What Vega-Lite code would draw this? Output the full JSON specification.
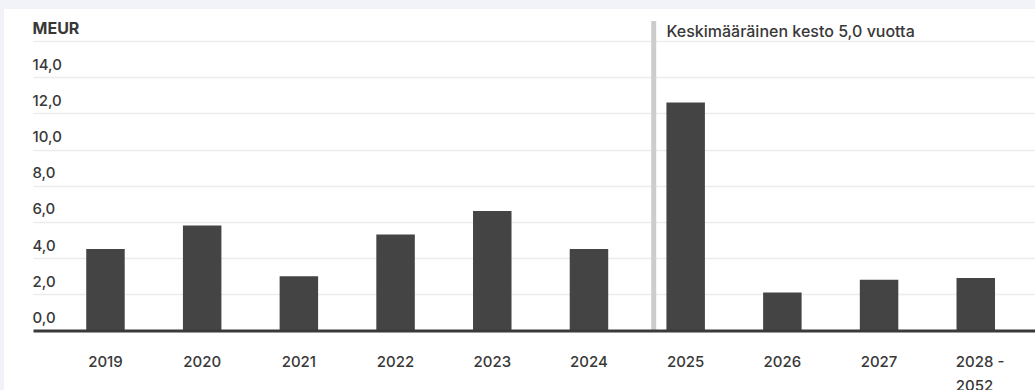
{
  "$schema": "https://vega.github.io/schema/vega-lite/v6.json",
  "width": 1031,
  "height": 381,
  "autosize": "none",
  "padding": {"left": 4, "top": 9, "right": 0, "bottom": 0},
  "background": "#f2f3f9",
  "config": {"view": {"fill": "white", "stroke": null}, "font": "Inter"},
  "datasets": {
    "bars": [
      {"year": "2019", "value": 4.5},
      {"year": "2020", "value": 5.8},
      {"year": "2021", "value": 3.0},
      {"year": "2022", "value": 5.3},
      {"year": "2023", "value": 6.6},
      {"year": "2024", "value": 4.5},
      {"year": "2025", "value": 12.6},
      {"year": "2026", "value": 2.1},
      {"year": "2027", "value": 2.8},
      {"year": "2028 - 2052", "value": 2.9}
    ],
    "notes": [
      {"year": "2025", "top": 17.1, "bottom": 0, "labelY": 16.2, "label": "Keskimääräinen kesto 5,0 vuotta"}
    ]
  },
  "layer": [
    {
      "data": {"name": "bars"},
      "mark": {"type": "bar", "color": "#444444"},
      "encoding": {
        "x": {
          "field": "year",
          "type": "nominal",
          "scale": {
            "domain": ["2019", "2020", "2021", "2022", "2023", "2024", "2025", "2026", "2027", "2028 - 2052"],
            "range": [29, 1031],
            "paddingInner": 0.602,
            "paddingOuter": 0.482,
            "align": 0.571
          },
          "axis": {
            "title": null,
            "orient": "bottom",
            "offset": -59.5,
            "domainColor": "#3a3a3a",
            "domainWidth": 3,
            "ticks": false,
            "tickSize": 0,
            "grid": false,
            "labelPadding": 36,
            "labelBaseline": "alphabetic",
            "labelFontSize": 15,
            "labelFontWeight": 500,
            "labelColor": "#383838",
            "labelAngle": 0,
            "labelLineHeight": 24,
            "labelExpr": "datum.value == '2028 - 2052' ? ['2028 -', '2052'] : datum.label",
            "labelAlign": {"condition": {"test": "datum.value == '2028 - 2052'", "value": "left"}, "value": "center"},
            "labelOffset": {"condition": {"test": "datum.value == '2028 - 2052'", "value": -20}, "value": 0},
            "zindex": 1
          }
        },
        "y": {
          "field": "value",
          "type": "quantitative",
          "scale": {"domain": [0, 16], "range": [321.5, 32], "nice": false, "zero": true},
          "axis": {
            "title": null,
            "values": [0, 2, 4, 6, 8, 10, 12, 14, 16],
            "domain": false,
            "ticks": false,
            "tickSize": 0,
            "labelAlign": "left",
            "labelBaseline": "alphabetic",
            "labelPadding": -28,
            "labelOffset": -8,
            "labelFontSize": {"condition": {"test": "datum.value == 16", "value": 16}, "value": 15},
            "labelColor": "#383838",
            "labelExpr": "datum.value == 16 ? 'MEUR' : replace(format(datum.value, '.1f'), '.', ',')",
            "labelFontWeight": {"condition": {"test": "datum.value == 16", "value": "bold"}, "value": 500},
            "grid": true,
            "gridColor": "#ececec",
            "gridWidth": 1.5
          }
        }
      }
    },
    {
      "data": {"name": "notes"},
      "mark": {"type": "rule", "color": "#cccccc", "strokeWidth": 5, "xOffset": -12.7},
      "encoding": {
        "x": {"field": "year", "type": "nominal", "bandPosition": 0},
        "y": {"field": "top", "type": "quantitative"},
        "y2": {"field": "bottom"}
      }
    },
    {
      "data": {"name": "notes"},
      "mark": {"type": "text", "align": "left", "baseline": "alphabetic", "fontSize": 16, "fontWeight": 500, "color": "#383838"},
      "encoding": {
        "x": {"field": "year", "type": "nominal", "bandPosition": 0},
        "y": {"field": "labelY", "type": "quantitative"},
        "text": {"field": "label"}
      }
    }
  ]
}
